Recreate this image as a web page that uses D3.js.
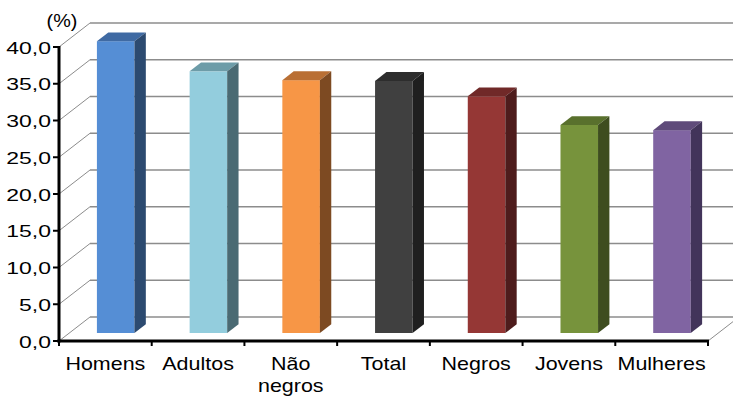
<!DOCTYPE html>
<html>
<head>
<meta charset="utf-8">
<script src="https://cdn.jsdelivr.net/npm/d3@7"></script>
<style>
  html, body { margin: 0; padding: 0; background: #fff; }
  svg text { font-family: "Liberation Sans", Arial, sans-serif; fill: #000; }
</style>
</head>
<body>
<svg id="chart" width="733" height="401"></svg>
<script>
// Share of each group, in percent
const categories = ["Homens", "Adultos", "Não negros", "Total", "Negros", "Jovens", "Mulheres"];
const values = [39.7, 35.6, 34.4, 34.3, 32.2, 28.3, 27.6];
const yTicks = [0, 5, 10, 15, 20, 25, 30, 35, 40];

// Bar face colours: front, top, right side
const frontColors = ["#558ed5", "#93cddd", "#f79646", "#404040", "#953735", "#77933c", "#8064a2"];
const topColors   = ["#3f6aa3", "#6d9ca8", "#b96f34", "#2d2d2d", "#702928", "#59702d", "#5f4b7a"];
const sideColors  = ["#2c4a70", "#4a6a73", "#7d4a22", "#1f1f1f", "#4e1c1c", "#3e4d1f", "#42345a"];

const svg = d3.select("#chart");

// Plot frame (front plane)
const x0 = 59, x1 = 708, yBase = 341, yTop = 47;
// Depth of the 3D box (back wall offset)
const depth = { dx: 31, dy: -24 };
// Bars sit between these fractions of the depth
const bar0 = 1 / 3, bar1 = 0.7;

const y = d3.scaleLinear().domain([0, 40]).range([yBase, yTop]);
const xAxisBand = d3.scaleBand().domain(categories).range([x0, x1]).padding(0);
const xBar = d3.scaleBand().domain(categories).range([x0, x1])
  .paddingInner(0.595).paddingOuter(0.2975);

// Walls and gridlines
const grid = svg.append("g").attr("class", "grid");
yTicks.forEach(t => {
  // left wall diagonal
  grid.append("line")
    .attr("x1", x0).attr("y1", y(t))
    .attr("x2", x0 + depth.dx).attr("y2", y(t) + depth.dy)
    .attr("stroke", "#8c8c8c").attr("stroke-width", 1);
  // back wall horizontal
  grid.append("line")
    .attr("x1", x0 + depth.dx).attr("y1", y(t) + depth.dy)
    .attr("x2", x1 + depth.dx).attr("y2", y(t) + depth.dy)
    .attr("stroke", "#8c8c8c").attr("stroke-width", 1.5);
});
// floor right edge
grid.append("line")
  .attr("x1", x1).attr("y1", y(0))
  .attr("x2", x1 + depth.dx).attr("y2", y(0) + depth.dy)
  .attr("stroke", "#8c8c8c").attr("stroke-width", 1);

// Bars
const bars = svg.append("g").attr("class", "bars");
categories.forEach((c, i) => {
  const v = values[i];
  const fx = xBar(c), w = xBar.bandwidth();
  const ax = depth.dx * bar0, ay = depth.dy * bar0;
  const bx = depth.dx * bar1, by = depth.dy * bar1;
  const yt = y(v), yb = y(0);
  const g = bars.append("g");
  // front face
  g.append("rect")
    .attr("x", fx + ax).attr("y", yt + ay)
    .attr("width", w).attr("height", yb - yt)
    .attr("fill", frontColors[i]);
  // top face
  g.append("polygon")
    .attr("points", [
      [fx + ax, yt + ay], [fx + ax + w, yt + ay],
      [fx + bx + w, yt + by], [fx + bx, yt + by]
    ].map(p => p.join(",")).join(" "))
    .attr("fill", topColors[i]);
  // right side face
  g.append("polygon")
    .attr("points", [
      [fx + ax + w, yt + ay], [fx + bx + w, yt + by],
      [fx + bx + w, yb + by], [fx + ax + w, yb + ay]
    ].map(p => p.join(",")).join(" "))
    .attr("fill", sideColors[i]);
});

// Y axis
const yAxis = svg.append("g").attr("class", "y-axis");
yAxis.append("line")
  .attr("x1", x0).attr("y1", yTop - 1).attr("x2", x0).attr("y2", yBase + 1.5)
  .attr("stroke", "#000").attr("stroke-width", 3);
const fmt = d3.format(".1f");
yTicks.forEach(t => {
  yAxis.append("line")
    .attr("x1", x0 - 6).attr("y1", y(t)).attr("x2", x0).attr("y2", y(t))
    .attr("stroke", "#000").attr("stroke-width", 2);
  yAxis.append("text")
    .attr("transform", `translate(${x0 - 8},${y(t) + 6.5}) scale(1.35,1)`)
    .attr("text-anchor", "end")
    .attr("font-size", 17)
    .text(fmt(t).replace(".", ","));
});
svg.append("text")
  .attr("transform", `translate(62,27) scale(1.1,1)`)
  .attr("text-anchor", "middle")
  .attr("font-size", 18)
  .text("(%)");

// X axis
const xAxis = svg.append("g").attr("class", "x-axis");
xAxis.append("line")
  .attr("x1", x0 - 1.5).attr("y1", yBase).attr("x2", x1 + 1).attr("y2", yBase)
  .attr("stroke", "#000").attr("stroke-width", 3);
const boundaries = categories.map(c => xAxisBand(c)).concat([x1]);
boundaries.forEach(bx => {
  xAxis.append("line")
    .attr("x1", bx).attr("y1", yBase).attr("x2", bx).attr("y2", yBase + 5)
    .attr("stroke", "#000").attr("stroke-width", 2);
});
categories.forEach(c => {
  const cx = xAxisBand(c) + xAxisBand.bandwidth() / 2;
  const words = c === "Não negros" ? ["Não", "negros"] : [c];
  words.forEach((wd, k) => {
    xAxis.append("text")
      .attr("transform", `translate(${cx},${370 + k * 22}) scale(1.13,1)`)
      .attr("text-anchor", "middle")
      .attr("font-size", 19)
      .text(wd);
  });
});
</script>
</body>
</html>
